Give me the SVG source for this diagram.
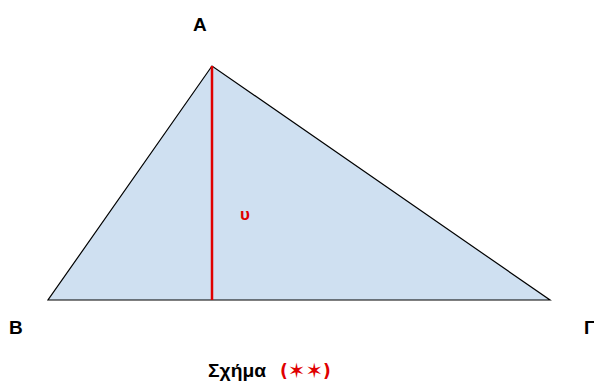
<svg xmlns="http://www.w3.org/2000/svg" width="594" height="383" viewBox="0 0 594 383">
<style>
.lbl{font-family:"Liberation Sans",Arial,sans-serif;font-weight:bold;font-size:19px;fill:#000}
</style>
<rect width="594" height="383" fill="#fff"/>
<g id="triangle">
<polygon points="212,66 48,300 550,300" fill="#cfe0f1" stroke="#000" stroke-width="1.2"/>
</g>
<g id="connectors">
<line x1="212" y1="66" x2="212" y2="300" stroke="#e00000" stroke-width="2.5"/>
</g>
<g id="labels">
<text class="lbl" x="193" y="31">A</text>
<text class="lbl" x="9" y="334">B</text>
<text class="lbl" x="584" y="334">Γ</text>
<text x="240" y="220" font-family="Liberation Sans,Arial,sans-serif" font-weight="bold" font-size="17" fill="#e00000">υ</text>
<text x="208" y="377" font-family="Liberation Sans,Arial,sans-serif" font-weight="bold" font-size="18" fill="#000" textLength="58" lengthAdjust="spacingAndGlyphs">Σχήμα</text>
<text x="280" y="377" font-family="DejaVu Sans,sans-serif" font-weight="bold" font-size="17" fill="#e00000">(<tspan font-size="21" dy="1">✶✶</tspan><tspan dy="-1">)</tspan></text>
</g>
</svg>
